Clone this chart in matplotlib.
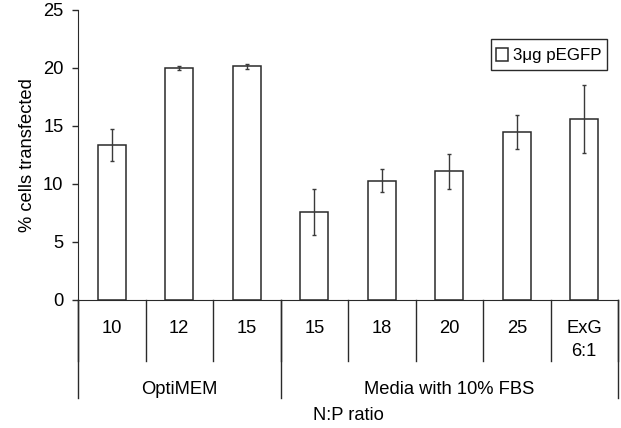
import matplotlib
matplotlib.use("Agg")
import matplotlib.pyplot as plt
import matplotlib.patches as mpatches
from matplotlib.legend_handler import HandlerPatch

# Data
ratios = ["10", "12", "15", "15", "18", "20", "25", "ExG\n6:1"]
values = [13.4, 20.0, 20.15, 7.6, 10.3, 11.1, 14.5, 15.6]
errors = [1.38, 0.15, 0.2, 1.97, 1.0, 1.5, 1.45, 2.95]
groups = ["OptiMEM", "Media with 10% FBS"]
group_sizes = [3, 5]
series_label = "3\u03bcg pEGFP"

FS = 13.2
plt.rcParams['font.family'] = ['Liberation Sans', 'DejaVu Sans']
plt.rcParams['font.size'] = FS

W, H = 621, 428
fig = plt.figure(figsize=(W / 100, H / 100), dpi=100)
ax = fig.add_axes([78 / W, (H - 300) / H, 540 / W, 290 / H])

line_col = "#2a2a2a"
xs = [i + 0.5 for i in range(len(values))]
bars = ax.bar(xs, values, width=0.41, color="white", edgecolor=line_col,
              linewidth=1.1, zorder=2)
ax.errorbar(xs, values, yerr=errors, fmt="none", ecolor="#3a3a3a",
            elinewidth=1.0, capsize=1.6, capthick=1.0, zorder=3)

ax.set_xlim(0, len(values))
ax.set_ylim(0, 25)
ax.set_yticks([0, 5, 10, 15, 20, 25])
ax.spines['top'].set_visible(False)
ax.spines['right'].set_visible(False)
ax.spines['left'].set_color(line_col)
ax.spines['bottom'].set_color(line_col)
ax.tick_params(axis='y', length=4, width=1.0, color=line_col, pad=6.5,
               labelsize=FS)
ax.set_xticks([])
ax.set_ylabel("% cells transfected", fontsize=FS, labelpad=5)

# category axis
tr = ax.get_xaxis_transform()
for i, lab in enumerate(ratios):
    ax.text(i + 0.5, -0.068, lab, transform=tr, ha="center", va="top",
            fontsize=FS, linespacing=1.45)
for i in range(len(values) + 1):
    ax.plot([i, i], [0, -0.21], transform=tr, color=line_col, lw=1.0,
            clip_on=False)
edges = [0]
for n in group_sizes:
    edges.append(edges[-1] + n)
for e in edges:
    ax.plot([e, e], [0, -0.338], transform=tr, color=line_col, lw=1.0,
            clip_on=False)
for g, a, b in zip(groups, edges[:-1], edges[1:]):
    ax.text((a + b) / 2, -0.31, g, transform=tr, ha="center", va="center",
            fontsize=FS)
ax.text(0.5, -0.40, "N:P ratio", transform=ax.transAxes, ha="center",
        va="center", fontsize=FS)


# legend: small square swatch centred in a taller row
def square_patch(legend, orig_handle, xdescent, ydescent, width, height, fontsize):
    return mpatches.Rectangle((-xdescent, -ydescent + (height - width) / 2),
                              width, width)


leg = ax.legend(handles=[bars.patches[0]], labels=[series_label],
                loc="upper right", bbox_to_anchor=(0.98, 0.9),
                fancybox=False, framealpha=1, edgecolor=line_col,
                handlelength=0.72, handleheight=1.45, handletextpad=0.3,
                borderpad=0.32, borderaxespad=0, fontsize=12.2,
                handler_map={mpatches.Rectangle: HandlerPatch(patch_func=square_patch)})
leg.get_frame().set_linewidth(1.0)

fig.savefig("out.png", dpi=100)
